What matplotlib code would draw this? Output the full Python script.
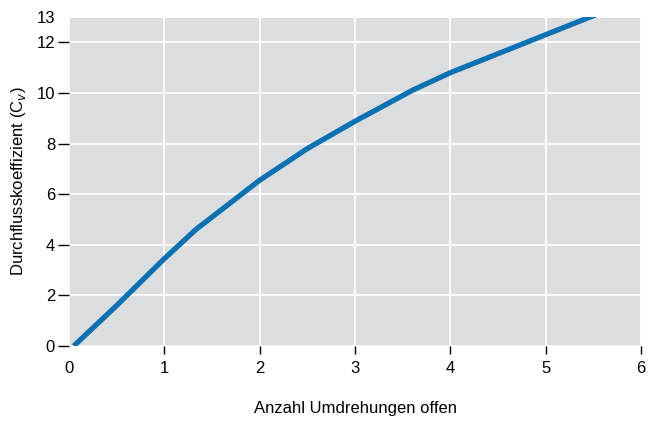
import matplotlib
matplotlib.use("Agg")
import matplotlib.pyplot as plt

# --- data ---
turns = [0.05, 0.5, 1.0, 1.33, 2.0, 2.5, 3.0, 3.6, 4.0, 4.5, 5.0, 5.6]
cv = [0.0, 1.6, 3.45, 4.6, 6.55, 7.8, 8.88, 10.1, 10.8, 11.55, 12.3, 13.2]
x_ticks = [0, 1, 2, 3, 4, 5, 6]
y_ticks = [0, 2, 4, 6, 8, 10, 12]

plt.rcParams['font.family'] = ['Liberation Sans', 'DejaVu Sans']

fig = plt.figure(figsize=(6.57, 4.21), dpi=100)
ax = fig.add_axes([69 / 657, 1 - 346 / 421, (641 - 69) / 657, (346 - 17) / 421])
ax.set_facecolor('#dcdddf')

ax.plot(turns, cv, color='#0a71b3', lw=3.8, solid_capstyle='butt', zorder=3)

ax.set_xlim(0, 6)
ax.set_ylim(0, 13)
ax.set_xticks(x_ticks)
ax.set_yticks(y_ticks + [13])
ax.set_yticklabels([str(v) for v in y_ticks] + ['13'])
ax.grid(True, color='white', lw=1.2, zorder=1)
ax.set_axisbelow(True)
for s in ax.spines.values():
    s.set_visible(False)

ax.tick_params(axis='y', length=8, width=1, color='black', labelsize=12, pad=2)
ax.tick_params(axis='x', length=6, width=1, color='black', labelsize=12, pad=5)
ax.yaxis.get_major_ticks()[-1].tick1line.set_visible(False)
ax.xaxis.get_major_ticks()[0].tick1line.set_visible(False)

ax.set_xlabel('Anzahl Umdrehungen offen', fontsize=12, labelpad=18)
ax.set_ylabel('Durchflusskoeffizient (C$_{v}$)', fontsize=12, labelpad=6)

fig.savefig('out.png', dpi=100)
